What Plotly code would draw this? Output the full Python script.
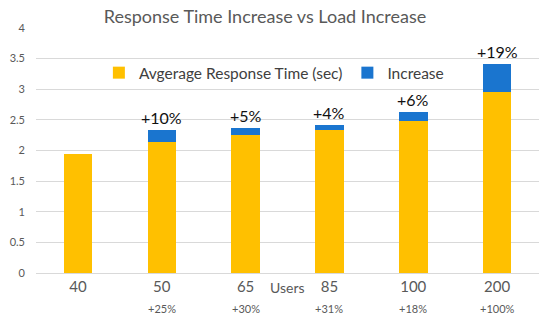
import plotly.graph_objects as go

users = ["40", "50", "65", "85", "100", "200"]
load_increase = ["", "+25%", "+30%", "+31%", "+18%", "+100%"]
avg_response = [1.94, 2.14, 2.26, 2.33, 2.485, 2.95]
increase = [0.0, 0.19, 0.10, 0.08, 0.145, 0.46]
increase_labels = ["", "+10%", "+5%", "+4%", "+6%", "+19%"]

FONT = "Lato"
GRAY = "#595959"

fig = go.Figure()
fig.add_trace(go.Bar(x=users, y=avg_response, name="Avgerage Response Time (sec)",
                     marker=dict(color="#FFC000", line=dict(width=0))))
fig.add_trace(go.Bar(x=users, y=increase, name="Increase",
                     marker=dict(color="#1A75CF", line=dict(width=0))))

annotations = []
for i, (a, inc, lab) in enumerate(zip(avg_response, increase, increase_labels)):
    if lab:
        annotations.append(dict(x=i, y=a + inc, text=lab, showarrow=False, yanchor="bottom",
                                yshift=1, font=dict(family=FONT, size=16, color="#111111")))
for i, lab in enumerate(load_increase):
    if lab:
        annotations.append(dict(x=i, y=0, yref="paper", text=lab, showarrow=False, yanchor="middle",
                                yshift=-35, font=dict(family=FONT, size=11, color=GRAY)))
annotations.append(dict(x=0.5, xref="paper", y=0, yref="paper", text="Users", showarrow=False,
                        yanchor="middle", yshift=-14, font=dict(family=FONT, size=14, color=GRAY)))

fig.update_layout(
    width=550, height=323,
    margin=dict(l=36, r=11, t=28, b=50),
    paper_bgcolor="white", plot_bgcolor="white",
    barmode="stack", bargap=0.66,
    title=dict(text="Response Time Increase vs Load Increase", x=265/550, xanchor="center",
               y=1 - 17/323, yanchor="middle", font=dict(family=FONT, size=18, color=GRAY)),
    legend=dict(orientation="h", x=0.125, xanchor="left", y=0.816, yanchor="middle",
                font=dict(family=FONT, size=15.5, color="#404040"), bgcolor="rgba(0,0,0,0)",
                itemwidth=30, traceorder="normal"),
    annotations=annotations,
    font=dict(family=FONT),
)
fig.update_xaxes(type="category", range=[-0.5, 5.5], showgrid=False, showline=True,
                 linecolor="#d9d9d9", linewidth=1,
                 ticks="", tickfont=dict(family=FONT, size=15, color=GRAY))
fig.update_yaxes(range=[0, 4], dtick=0.5, showgrid=True, gridcolor="#d9d9d9", gridwidth=1,
                 zeroline=False, ticks="", ticklabelstandoff=10,
                 tickfont=dict(family=FONT, size=11, color=GRAY))

fig.write_html("out.html", config={"displayModeBar": False},
               post_script="document.body.style.margin='0';")
